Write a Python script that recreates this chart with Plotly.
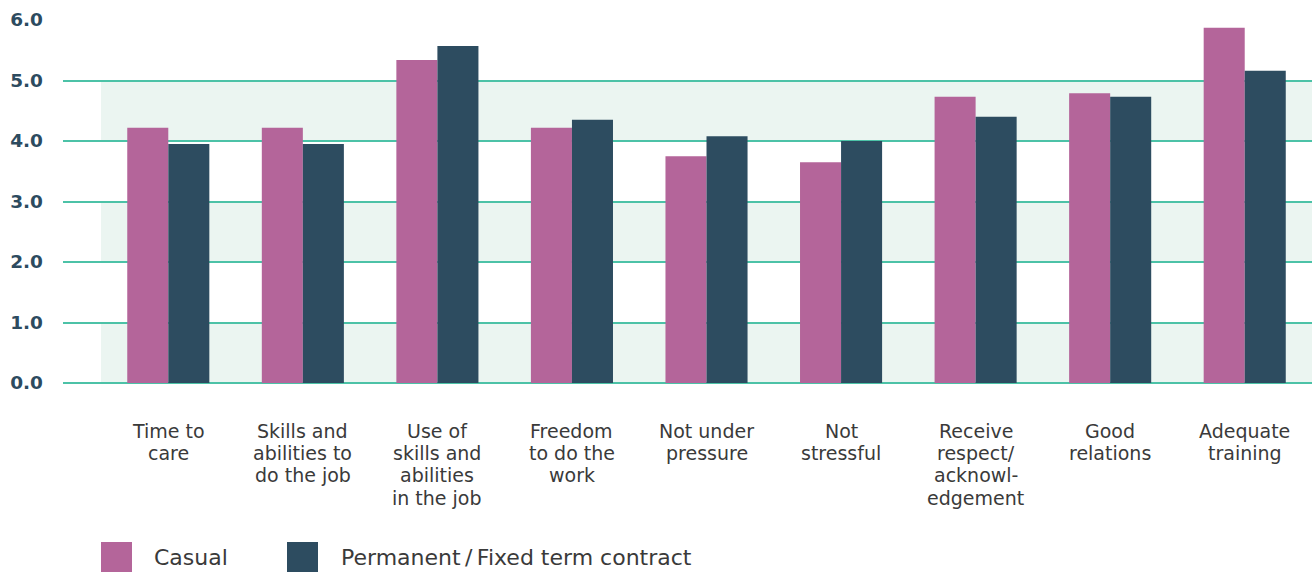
import plotly.graph_objects as go

# Survey categories (one entry per group, lines separated by <br>)
categories = [
    "Time to<br>care",
    "Skills and<br>abilities to<br>do the job",
    "Use of<br>skills and<br>abilities<br>in the job",
    "Freedom<br>to do the<br>work",
    "Not under<br>pressure",
    "Not<br>stressful",
    "Receive<br>respect/<br>acknowl-<br>edgement",
    "Good<br>relations",
    "Adequate<br>training",
]

series_names = ["Casual", "Permanent\u2009/\u2009Fixed term contract"]
casual = [4.22, 4.22, 5.34, 4.22, 3.75, 3.65, 4.73, 4.79, 5.87]
permanent = [3.95, 3.95, 5.57, 4.35, 4.08, 4.00, 4.40, 4.73, 5.16]

y_ticks = [0, 1, 2, 3, 4, 5, 6]
y_tick_text = ["0.0", "1.0", "2.0", "3.0", "4.0", "5.0", "6.0"]

CASUAL_COLOR = "#b4659a"
PERM_COLOR = "#2d4c60"
GRID_COLOR = "#4cc2a7"
BAND_COLOR = "#ebf5f1"
TEXT_COLOR = "#3a3a3a"
AXIS_TEXT = "#2d4b5f"
FONT = "DejaVu Sans"

W, H = 1312, 572
L, R, T, B = 63, 0, 20, 189
plot_w = W - L - R
plot_h = H - T - B

x_idx = list(range(len(categories)))
# Category slot width: bands start half a slot left of the first group
slot_px = 134.5
left_pad = (101 - L) / slot_px
x_range = [-0.5 - left_pad, len(categories) - 0.5]

fig = go.Figure()
fig.add_trace(go.Bar(x=x_idx, y=casual, name=series_names[0],
                     marker=dict(color=CASUAL_COLOR, line=dict(width=0))))
fig.add_trace(go.Bar(x=x_idx, y=permanent, name=series_names[1],
                     marker=dict(color=PERM_COLOR, line=dict(width=0))))

# Alternating shaded bands behind the gridlines
shapes = []
for lo in (0, 2, 4):
    shapes.append(dict(type="rect", xref="x", yref="y",
                       x0=-0.5, x1=len(categories) - 0.5, y0=lo, y1=lo + 1,
                       fillcolor=BAND_COLOR, line=dict(width=0), layer="below"))

# Category labels under each group, one annotation per line for tight leading
LINE_STEP = 22.4
annotations = []
for i, lab in enumerate(categories):
    for j, line in enumerate(lab.split("<br>")):
        annotations.append(dict(x=i, y=0, xref="x", yref="y", text=line,
                                showarrow=False, yanchor="top", xanchor="center",
                                yshift=-34.5 - j * LINE_STEP, align="center",
                                font=dict(family=FONT, size=19, color=TEXT_COLOR)))

# Custom legend: square swatches with labels
def px_x(px):
    return (px - L) / plot_w

def px_y(py):
    return (H - B - py) / plot_h

legend_items = [(101, 132, 152, CASUAL_COLOR), (287, 318, 339, PERM_COLOR)]
for (sx0, sx1, tx, col), name in zip(legend_items, series_names):
    shapes.append(dict(type="rect", xref="paper", yref="paper",
                       x0=px_x(sx0), x1=px_x(sx1), y0=px_y(572), y1=px_y(542),
                       fillcolor=col, line=dict(width=0), layer="above"))
    annotations.append(dict(x=px_x(tx), y=px_y(557), xref="paper", yref="paper",
                            text=name, showarrow=False, xanchor="left",
                            yanchor="middle",
                            font=dict(family=FONT, size=22, color=TEXT_COLOR)))

fig.update_layout(
    width=W, height=H,
    margin=dict(l=L, r=R, t=T, b=B, pad=0),
    paper_bgcolor="white", plot_bgcolor="white",
    barmode="group", bargap=0.39, bargroupgap=0,
    showlegend=False,
    shapes=shapes, annotations=annotations,
    font=dict(family=FONT),
    xaxis=dict(range=x_range, showticklabels=False, showgrid=False,
               zeroline=False, showline=False, ticks=""),
    yaxis=dict(range=[0, 6], tickvals=y_ticks, ticktext=y_tick_text,
               showgrid=True, gridcolor=GRID_COLOR, gridwidth=2,
               zeroline=True, zerolinecolor=GRID_COLOR, zerolinewidth=2,
               showline=False, ticks="", ticklabelstandoff=19,
               tickfont=dict(family=FONT, size=18.5, color=AXIS_TEXT, weight=600)),
)

fig.write_html("out.html")
